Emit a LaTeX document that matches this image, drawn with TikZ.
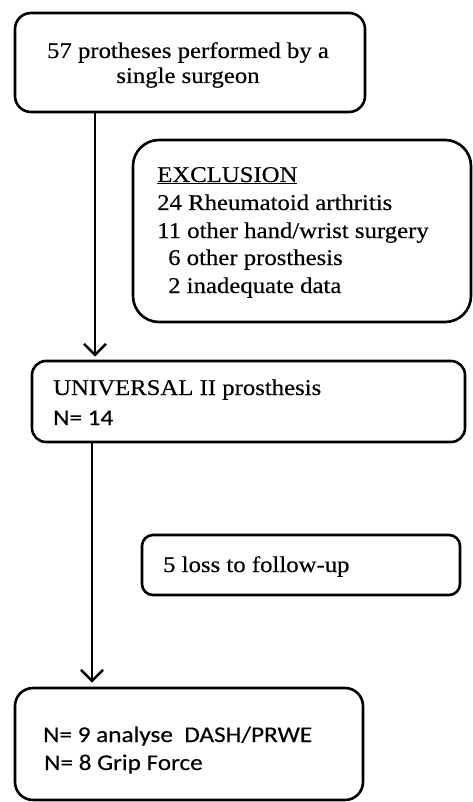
\documentclass[tikz,border=0pt]{standalone}
\usepackage{fontspec}
\setmainfont{Liberation Serif}[FakeStretch=1.1,FakeBold=0.35]
\newfontfamily\nsans{Carlito}[FakeStretch=1.12,FakeBold=0.25]
\usetikzlibrary{arrows.meta}
\begin{document}
\begin{tikzpicture}[x=1pt,y=-1pt,
  box/.style={draw=black,line width=2.6pt,rounded corners=#1,inner sep=0pt},
  box/.default=14pt,
  txt/.style={anchor=base west,inner sep=0pt,font=\fontsize{22.5}{26}\selectfont},
  ctxt/.style={anchor=base,inner sep=0pt,font=\fontsize{22.5}{26}\selectfont},
  stxt/.style={anchor=base west,inner sep=0pt,font=\nsans\fontsize{22.5}{26}\selectfont},
  arr/.style={line width=2.6pt,-{Straight Barb[length=11pt,width=22pt,line width=2.6pt]}}]
\useasboundingbox (0,0) rectangle (473,802);
% boxes
\node[box=16pt,minimum width=350pt,minimum height=99pt] (b1) at (190,62.5) {};
\node[box=26pt,minimum width=338pt,minimum height=182pt] (ex) at (302,231) {};
\node[box=14pt,minimum width=433pt,minimum height=81pt] (b2) at (248.5,401.5) {};
\node[box=11pt,minimum width=318pt,minimum height=60pt] (ls) at (301,565) {};
\node[box=18pt,minimum width=348pt,minimum height=112pt] (b3) at (189,744) {};
% texts
\node[ctxt] (t1a) at (188,58) {57 protheses performed by a};
\node[ctxt] (t1b) at (188,83) {single surgeon};
\node[txt] (e0) at (157,182) {\underline{EXCLUSION}};
\node[txt] (e1) at (157,210) {24 Rheumatoid arthritis};
\node[txt] (e2) at (157,238) {11 other hand/wrist surgery};
\node[txt] (e3) at (168,265) {6 other prosthesis};
\node[txt] (e4) at (168,293) {2 inadequate data};
\node[txt] (u1) at (53,395) {UNIVERSAL II prosthesis};
\node[stxt] (u2) at (53,425) {N= 14};
\node[txt] (l1) at (163,572) {5 loss to follow-up};
\node[stxt] (f1) at (43,742) {N= 9 analyse\ \ DASH/PRWE};
\node[stxt] (f2) at (44,770) {N= 8 Grip Force};
% arrows
\coordinate (a1) at (95,0);
\coordinate (a2) at (92,0);
\draw[arr,shorten >=3pt] (b1.south -| a1) -- (b2.north -| a1);
\draw[arr,shorten >=4pt] (b2.south -| a2) -- (b3.north -| a2);
\end{tikzpicture}
\end{document}
